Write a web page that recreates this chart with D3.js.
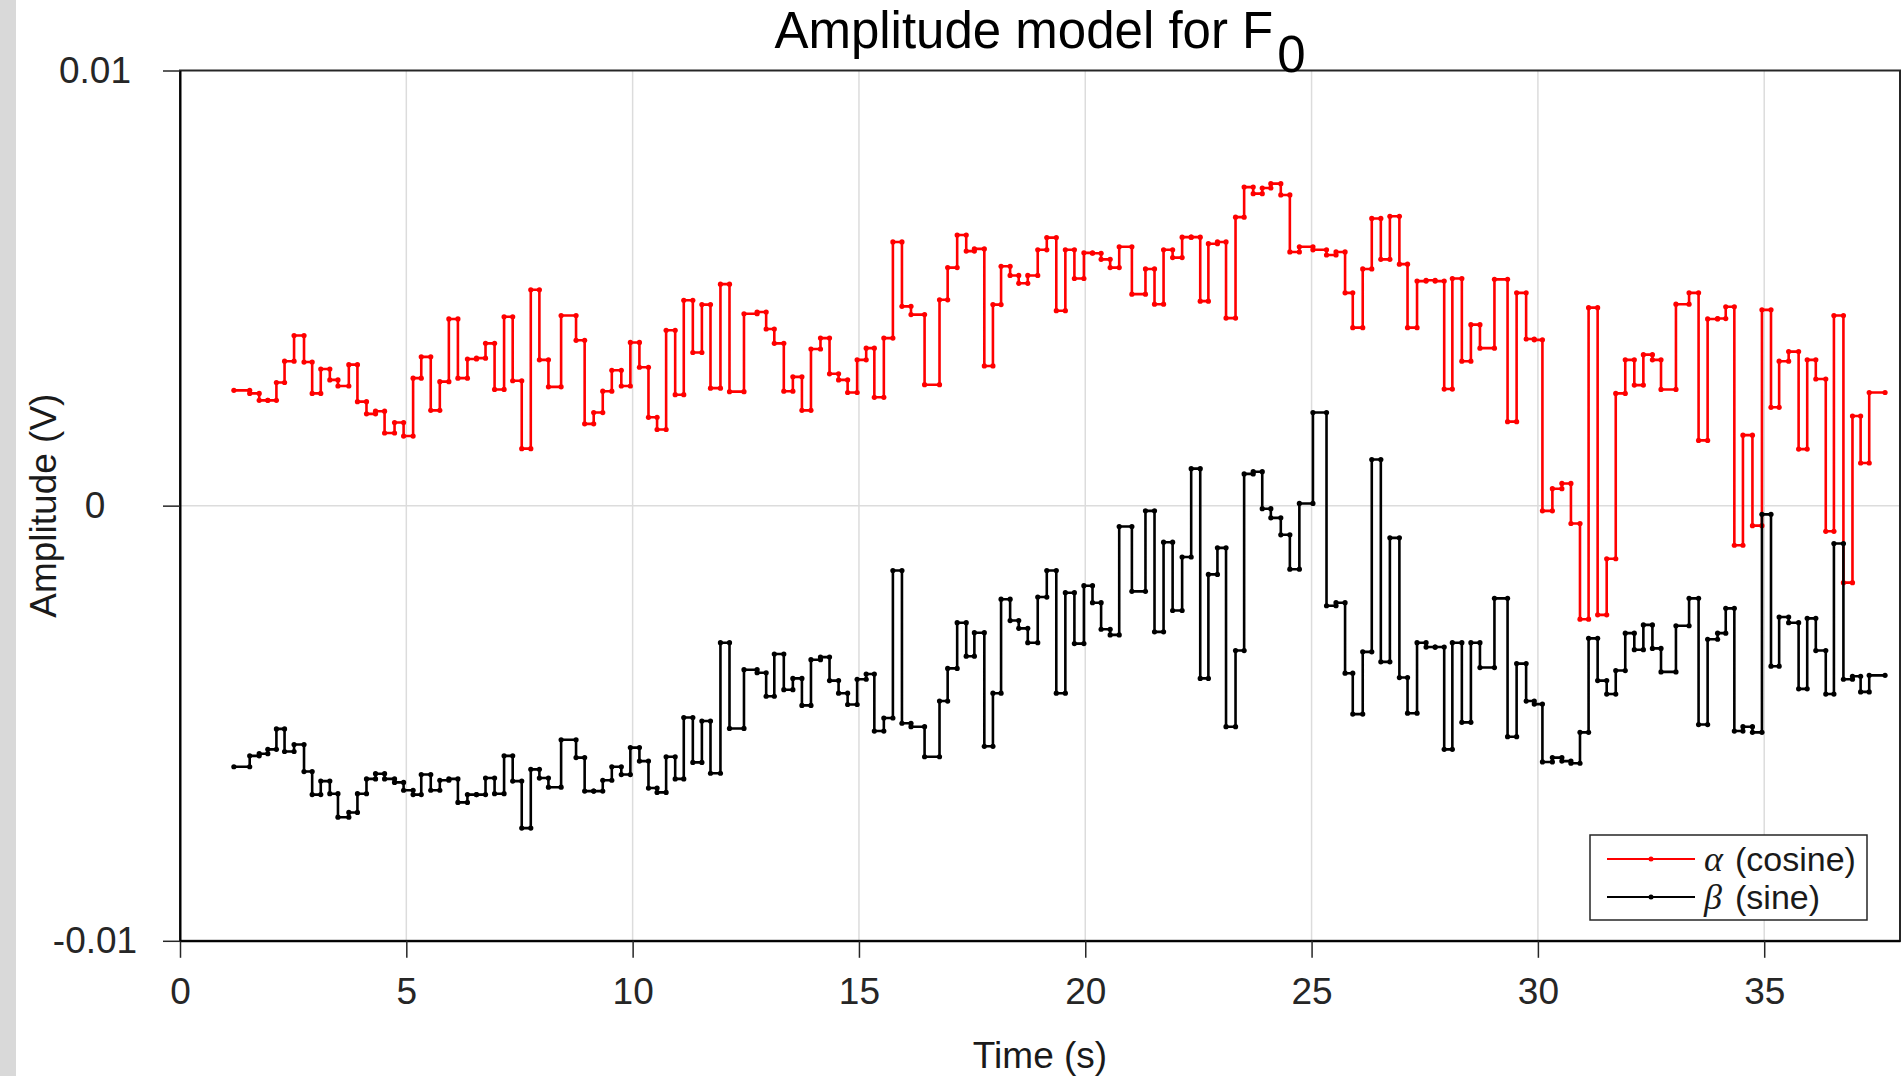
<!DOCTYPE html>
<html>
<head>
<meta charset="utf-8">
<title>Amplitude model for F0</title>
<script src="https://cdn.jsdelivr.net/npm/d3@7"></script>
<style>
  html, body { margin: 0; padding: 0; background: #ffffff; }
  svg { display: block; }
  text { font-family: "Liberation Sans", Arial, Helvetica, sans-serif; }
</style>
</head>
<body>
<svg id="chart" width="1901" height="1076"></svg>
<script>
// Frame start times (s); the last entry closes the final step.
const time = [
  1.19, 1.54, 1.75, 1.94, 2.13, 2.31, 2.52, 2.74, 2.92, 3.11,
  3.31, 3.49, 3.73, 3.92, 4.12, 4.32, 4.52, 4.74, 4.94, 5.15,
  5.33, 5.54, 5.74, 5.94, 6.14, 6.35, 6.55, 6.75, 6.95, 7.16,
  7.35, 7.55, 7.75, 7.94, 8.14, 8.42, 8.75, 8.94, 9.14, 9.34,
  9.54, 9.75, 9.95, 10.15, 10.35, 10.54, 10.74, 10.94, 11.13, 11.33,
  11.53, 11.72, 11.94, 12.14, 12.46, 12.75, 12.95, 13.13, 13.34, 13.54,
  13.74, 13.94, 14.15, 14.35, 14.55, 14.75, 14.96, 15.16, 15.34, 15.55,
  15.75, 15.95, 16.15, 16.45, 16.78, 16.96, 17.17, 17.37, 17.55, 17.77,
  17.96, 18.14, 18.34, 18.53, 18.73, 18.95, 19.15, 19.36, 19.56, 19.76,
  19.97, 20.16, 20.35, 20.55, 20.75, 21.03, 21.33, 21.53, 21.73, 21.93,
  22.14, 22.34, 22.54, 22.72, 22.92, 23.11, 23.32, 23.51, 23.71, 23.91,
  24.10, 24.32, 24.52, 24.73, 25.03, 25.33, 25.54, 25.74, 25.91, 26.13,
  26.33, 26.53, 26.73, 26.94, 27.12, 27.33, 27.53, 27.73, 27.93, 28.11,
  28.32, 28.52, 28.72, 29.04, 29.33, 29.53, 29.74, 29.92, 30.10, 30.32,
  30.53, 30.73, 30.93, 31.12, 31.32, 31.52, 31.72, 31.93, 32.13, 32.33,
  32.53, 32.72, 33.05, 33.34, 33.55, 33.75, 33.97, 34.15, 34.34, 34.53,
  34.74, 34.95, 35.15, 35.33, 35.54, 35.76, 35.95, 36.14, 36.36, 36.54,
  36.75, 36.95, 37.13, 37.32, 37.67
];

// Cosine amplitude alpha (V)
const alpha = [
  0.00265, 0.00258, 0.00242, 0.00242, 0.00283, 0.00332, 0.00391, 0.00330, 0.00258, 0.00314,
  0.00289, 0.00275, 0.00324, 0.00239, 0.00211, 0.00217, 0.00167, 0.00191, 0.00160, 0.00293,
  0.00342, 0.00219, 0.00285, 0.00429, 0.00293, 0.00337, 0.00339, 0.00373, 0.00267, 0.00434,
  0.00287, 0.00131, 0.00496, 0.00335, 0.00273, 0.00437, 0.00380, 0.00188, 0.00214, 0.00263,
  0.00311, 0.00275, 0.00375, 0.00318, 0.00203, 0.00175, 0.00403, 0.00255, 0.00472, 0.00352,
  0.00462, 0.00270, 0.00509, 0.00262, 0.00441, 0.00445, 0.00406, 0.00373, 0.00263, 0.00296,
  0.00219, 0.00360, 0.00385, 0.00303, 0.00289, 0.00260, 0.00335, 0.00362, 0.00249, 0.00385,
  0.00606, 0.00458, 0.00439, 0.00278, 0.00473, 0.00547, 0.00622, 0.00585, 0.00590, 0.00321,
  0.00462, 0.00550, 0.00529, 0.00511, 0.00529, 0.00588, 0.00616, 0.00448, 0.00588, 0.00522,
  0.00581, 0.00580, 0.00566, 0.00547, 0.00595, 0.00486, 0.00544, 0.00463, 0.00588, 0.00570,
  0.00617, 0.00617, 0.00470, 0.00602, 0.00606, 0.00431, 0.00663, 0.00732, 0.00717, 0.00730,
  0.00740, 0.00714, 0.00583, 0.00595, 0.00588, 0.00576, 0.00583, 0.00489, 0.00409, 0.00544,
  0.00660, 0.00566, 0.00665, 0.00555, 0.00409, 0.00516, 0.00518, 0.00516, 0.00268, 0.00522,
  0.00332, 0.00416, 0.00362, 0.00520, 0.00193, 0.00489, 0.00383, 0.00381, -0.00012, 0.00039,
  0.00051, -0.00041, -0.00261, 0.00455, -0.00251, -0.00122, 0.00258, 0.00335, 0.00277, 0.00347,
  0.00335, 0.00267, 0.00463, 0.00489, 0.00150, 0.00429, 0.00430, 0.00457, -0.00091, 0.00162,
  -0.00046, 0.00450, 0.00226, 0.00332, 0.00354, 0.00130, 0.00335, 0.00291, -0.00059, 0.00437,
  -0.00177, 0.00206, 0.00098, 0.00260, 0.00260
];

// Sine amplitude beta (V)
const beta = [
  -0.00600, -0.00575, -0.00570, -0.00560, -0.00513, -0.00565, -0.00549, -0.00611, -0.00664, -0.00633,
  -0.00662, -0.00716, -0.00705, -0.00662, -0.00628, -0.00616, -0.00628, -0.00636, -0.00654, -0.00664,
  -0.00618, -0.00654, -0.00631, -0.00628, -0.00682, -0.00664, -0.00664, -0.00626, -0.00662, -0.00575,
  -0.00633, -0.00741, -0.00606, -0.00626, -0.00647, -0.00538, -0.00579, -0.00656, -0.00656, -0.00631,
  -0.00600, -0.00618, -0.00556, -0.00587, -0.00649, -0.00659, -0.00577, -0.00628, -0.00487, -0.00590,
  -0.00495, -0.00615, -0.00315, -0.00512, -0.00377, -0.00384, -0.00438, -0.00341, -0.00423, -0.00397,
  -0.00459, -0.00354, -0.00348, -0.00402, -0.00431, -0.00457, -0.00399, -0.00387, -0.00518, -0.00488,
  -0.00149, -0.00500, -0.00508, -0.00577, -0.00449, -0.00374, -0.00269, -0.00346, -0.00292, -0.00553,
  -0.00431, -0.00215, -0.00264, -0.00282, -0.00315, -0.00210, -0.00149, -0.00431, -0.00200, -0.00317,
  -0.00184, -0.00223, -0.00284, -0.00297, -0.00048, -0.00197, -0.00012, -0.00290, -0.00084, -0.00241,
  -0.00118, 0.00085, -0.00397, -0.00158, -0.00097, -0.00508, -0.00333, 0.00073, 0.00078, -0.00007,
  -0.00028, -0.00067, -0.00146, 0.00005, 0.00214, -0.00230, -0.00223, -0.00385, -0.00479, -0.00336,
  0.00106, -0.00359, -0.00074, -0.00395, -0.00477, -0.00315, -0.00325, -0.00325, -0.00560, -0.00315,
  -0.00498, -0.00315, -0.00372, -0.00213, -0.00531, -0.00363, -0.00449, -0.00456, -0.00589, -0.00579,
  -0.00587, -0.00592, -0.00521, -0.00305, -0.00402, -0.00433, -0.00379, -0.00293, -0.00331, -0.00274,
  -0.00328, -0.00382, -0.00276, -0.00213, -0.00503, -0.00307, -0.00293, -0.00236, -0.00518, -0.00508,
  -0.00521, -0.00020, -0.00369, -0.00256, -0.00269, -0.00421, -0.00259, -0.00333, -0.00433, -0.00087,
  -0.00399, -0.00392, -0.00428, -0.00390, -0.00390
];

const xTicks = [0, 5, 10, 15, 20, 25, 30, 35];
const yTicks = [-0.01, 0, 0.01];
const yTickLabels = ["-0.01", "0", "0.01"];

const seriesInfo = [
  { key: "alpha", values: alpha, color: "#ff0000", symbol: "\u03B1", label: "(cosine)" },
  { key: "beta",  values: beta,  color: "#000000", symbol: "\u03B2", label: "(sine)" }
];

const W = 1901, H = 1076;
const plot = { left: 180, right: 1900, top: 70.5, bottom: 940.8 };
const axisColor = "#262626";

const svg = d3.select("#chart");
svg.append("rect").attr("width", W).attr("height", H).attr("fill", "#ffffff");
// window strip on the far left
svg.append("rect").attr("x", 0).attr("y", 0).attr("width", 16).attr("height", H).attr("fill", "#d9d9d9");

const x = d3.scaleLinear().domain([0, 38]).range([plot.left, plot.right]);
const y = d3.scaleLinear().domain([-0.01, 0.01]).range([plot.bottom, plot.top]);

svg.append("defs").append("clipPath").attr("id", "plotClip")
  .append("rect")
  .attr("x", plot.left).attr("y", plot.top)
  .attr("width", plot.right - plot.left).attr("height", plot.bottom - plot.top);

// grid
const grid = svg.append("g").attr("stroke", "#dcdcdc").attr("stroke-width", 1.5);
grid.selectAll("line.vx").data(xTicks.filter(t => t > 0)).join("line")
  .attr("x1", d => x(d)).attr("x2", d => x(d))
  .attr("y1", plot.top).attr("y2", plot.bottom);
grid.selectAll("line.hy").data(yTicks.filter(v => v > -0.01 && v < 0.01)).join("line")
  .attr("x1", plot.left).attr("x2", plot.right)
  .attr("y1", d => y(d)).attr("y2", d => y(d));

// stair series
const line = d3.line()
  .x((d, i) => x(time[i]))
  .y(d => y(d))
  .curve(d3.curveStepAfter);

const series = svg.append("g").attr("clip-path", "url(#plotClip)");
seriesInfo.forEach(s => {
  series.append("path")
    .datum(s.values)
    .attr("fill", "none")
    .attr("stroke", s.color)
    .attr("stroke-width", 2.6)
    .attr("stroke-linejoin", "miter")
    .attr("d", line);
  // point markers at both ends of every step
  const pts = [];
  for (let i = 0; i < s.values.length - 1; i++) {
    pts.push([time[i], s.values[i]]);
    pts.push([time[i + 1], s.values[i]]);
  }
  series.append("g").selectAll("circle").data(pts).join("circle")
    .attr("cx", d => x(d[0])).attr("cy", d => y(d[1]))
    .attr("r", 2.6).attr("fill", s.color);
});

// box
svg.append("rect")
  .attr("x", plot.left).attr("y", plot.top)
  .attr("width", plot.right - plot.left).attr("height", plot.bottom - plot.top)
  .attr("fill", "none").attr("stroke", axisColor).attr("stroke-width", 2);

// axes
const fontSize = 37;
const xAxis = d3.axisBottom(x).tickValues(xTicks).tickFormat(d3.format("d"))
  .tickSizeInner(17).tickSizeOuter(0).tickPadding(20);
const gx = svg.append("g").attr("transform", `translate(0,${plot.bottom})`).call(xAxis);
gx.select(".domain").attr("stroke", "#000").attr("stroke-width", 2);
gx.selectAll(".tick line").attr("stroke", axisColor).attr("stroke-width", 1.5);
gx.selectAll(".tick text").attr("fill", axisColor).attr("font-size", fontSize)
  .attr("font-family", "Liberation Sans, Arial, sans-serif");

const yAxis = d3.axisLeft(y).tickValues(yTicks)
  .tickFormat((d, i) => yTickLabels[i])
  .tickSizeInner(17).tickSizeOuter(0);
const gy = svg.append("g").attr("transform", `translate(${plot.left},0)`).call(yAxis);
gy.select(".domain").attr("stroke", "#000").attr("stroke-width", 2);
gy.selectAll(".tick line").attr("stroke", axisColor).attr("stroke-width", 1.5);
gy.selectAll(".tick text").attr("fill", axisColor).attr("font-size", fontSize)
  .attr("font-family", "Liberation Sans, Arial, sans-serif")
  .attr("text-anchor", "middle").attr("x", 95 - plot.left);

// axis titles
svg.append("text")
  .attr("x", (plot.left + plot.right) / 2).attr("y", 1068)
  .attr("text-anchor", "middle").attr("font-size", fontSize).attr("fill", "#1a1a1a")
  .text("Time (s)");
svg.append("text")
  .attr("transform", `translate(56,${(plot.top + plot.bottom) / 2}) rotate(-90)`)
  .attr("text-anchor", "middle").attr("font-size", fontSize).attr("fill", "#1a1a1a")
  .text("Amplitude (V)");

// title with subscript
const title = svg.append("text")
  .attr("x", (plot.left + plot.right) / 2).attr("y", 48)
  .attr("text-anchor", "middle").attr("font-size", 51).attr("fill", "#000");
title.append("tspan").text("Amplitude model for F");
title.append("tspan").attr("dx", 4).attr("dy", 24).text("0");

// legend
const lg = svg.append("g");
lg.append("rect").attr("x", 1590).attr("y", 835).attr("width", 277).attr("height", 85)
  .attr("fill", "#ffffff").attr("stroke", axisColor).attr("stroke-width", 1.5);
seriesInfo.forEach((s, i) => {
  const ly = 859 + i * 38;
  lg.append("line").attr("x1", 1607).attr("x2", 1695).attr("y1", ly).attr("y2", ly)
    .attr("stroke", s.color).attr("stroke-width", 2.2);
  lg.append("circle").attr("cx", 1651).attr("cy", ly).attr("r", 2.5).attr("fill", s.color);
  const t = lg.append("text").attr("x", 1704).attr("y", ly + 12).attr("font-size", 34).attr("fill", "#1a1a1a");
  t.append("tspan").attr("font-family", "Liberation Serif, DejaVu Serif, serif").attr("font-style", "italic")
    .attr("font-size", 36).text(s.symbol);
  t.append("tspan").attr("x", 1735).text(s.label);
});
</script>
</body>
</html>
